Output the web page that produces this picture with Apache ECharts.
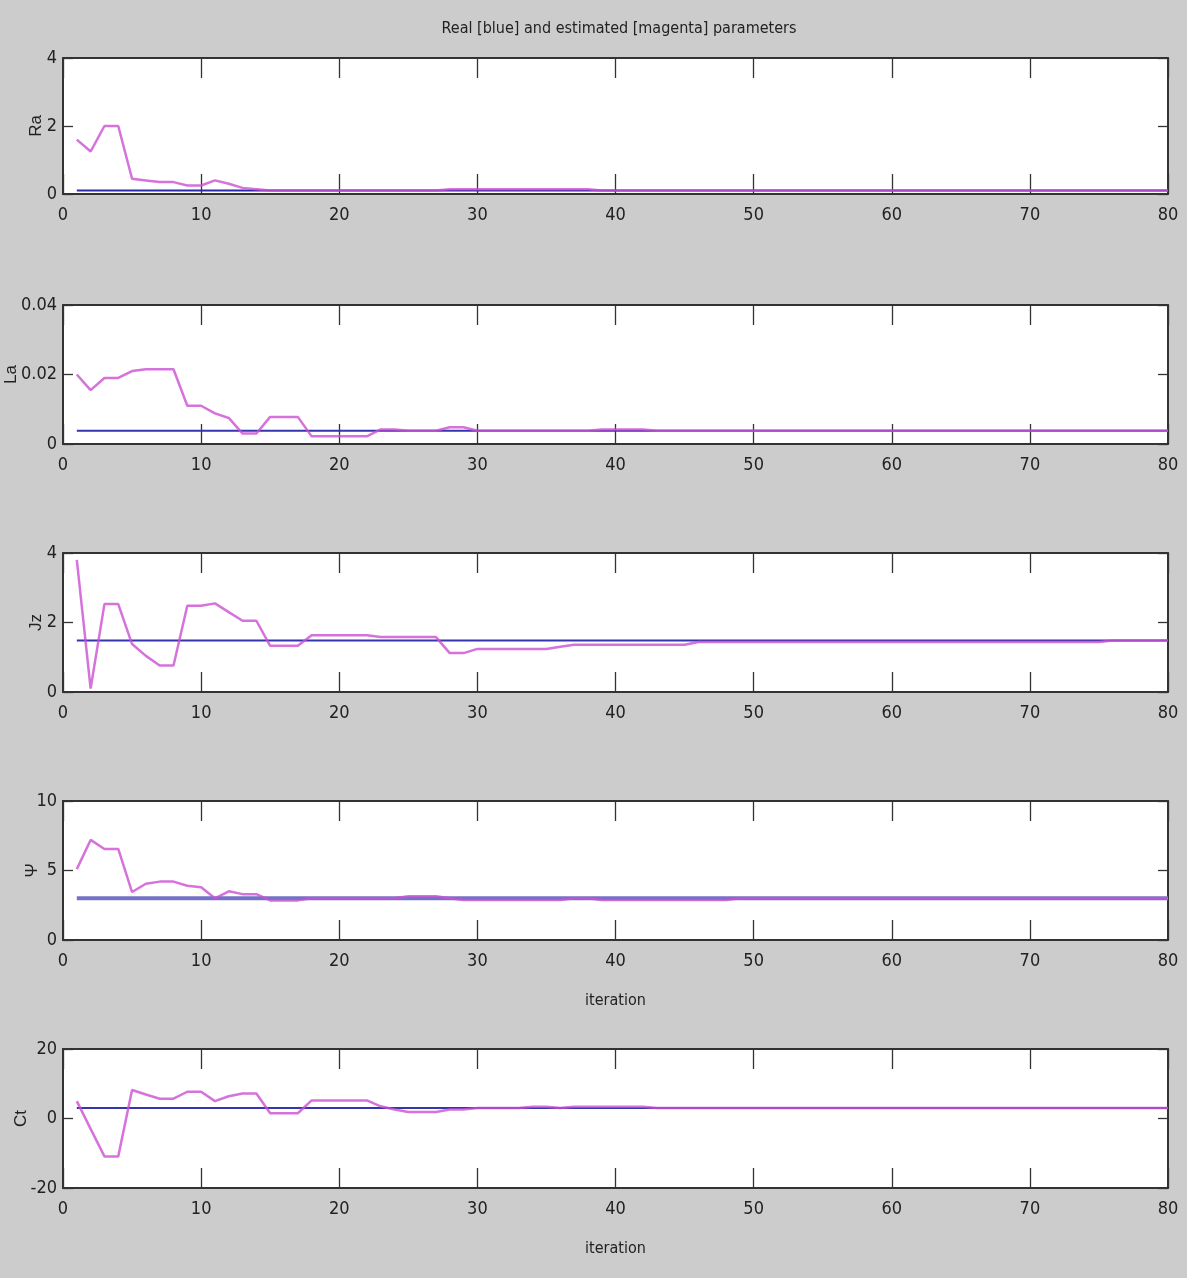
<!DOCTYPE html>
<html style="height: 100%">
  <head>
    <meta charset="utf-8" />
  </head>
  <body style="height: 100%; margin: 0; background: #cccccc">
    <div id="container" style="width: 1187px; height: 1278px"></div>

    <script src="https://cdn.jsdelivr.net/npm/echarts@6/dist/echarts.min.js"></script>
    <script type="text/javascript">
      // parameter names and the real (constant) values
      var paramNames = ["Ra", "La", "Jz", "\u03a8", "Ct"];
      var realValues = [0.1, 0.0038, 1.48, 3.0, 3.0];

      // y tick labels per panel
      var yTicks = [
        [0, 2, 4],
        [0, 0.02, 0.04],
        [0, 2, 4],
        [0, 5, 10],
        [-20, 0, 20],
      ];
      var xTicks = [0, 10, 20, 30, 40, 50, 60, 70, 80];

      // estimated values, iteration 1..80
      var estRa = [
        1.6, 1.25, 2.0, 2.0, 0.45, 0.4, 0.35, 0.35, 0.25, 0.25,
        0.4, 0.3, 0.18, 0.14, 0.1, 0.1, 0.1, 0.1, 0.1, 0.1,
        0.1, 0.1, 0.1, 0.1, 0.1, 0.1, 0.1, 0.14, 0.14, 0.14,
        0.14, 0.14, 0.14, 0.14, 0.14, 0.14, 0.14, 0.14, 0.1, 0.1,
        0.1, 0.1, 0.1, 0.1, 0.1, 0.1, 0.1, 0.1, 0.1, 0.1,
        0.1, 0.1, 0.1, 0.1, 0.1, 0.1, 0.1, 0.1, 0.1, 0.1,
        0.1, 0.1, 0.1, 0.1, 0.1, 0.1, 0.1, 0.1, 0.1, 0.1,
        0.1, 0.1, 0.1, 0.1, 0.1, 0.1, 0.1, 0.1, 0.1, 0.1,
      ];
      var estLa = [
        0.02, 0.0155, 0.019, 0.019, 0.021, 0.0215, 0.0215, 0.0215, 0.011, 0.011,
        0.0088, 0.0075, 0.003, 0.003, 0.0078, 0.0078, 0.0078, 0.0022, 0.0022, 0.0022,
        0.0022, 0.0022, 0.0042, 0.0042, 0.0038, 0.0038, 0.0038, 0.0048, 0.0048, 0.0038,
        0.0038, 0.0038, 0.0038, 0.0038, 0.0038, 0.0038, 0.0038, 0.0038, 0.0042, 0.0042,
        0.0042, 0.0042, 0.0038, 0.0038, 0.0038, 0.0038, 0.0038, 0.0038, 0.0038, 0.0038,
        0.0038, 0.0038, 0.0038, 0.0038, 0.0038, 0.0038, 0.0038, 0.0038, 0.0038, 0.0038,
        0.0038, 0.0038, 0.0038, 0.0038, 0.0038, 0.0038, 0.0038, 0.0038, 0.0038, 0.0038,
        0.0038, 0.0038, 0.0038, 0.0038, 0.0038, 0.0038, 0.0038, 0.0038, 0.0038, 0.0038,
      ];
      var estJz = [
        3.8, 0.1, 2.53, 2.53, 1.38, 1.04, 0.76, 0.76, 2.48, 2.48,
        2.55, 2.3, 2.05, 2.05, 1.33, 1.33, 1.33, 1.63, 1.63, 1.63,
        1.63, 1.63, 1.58, 1.58, 1.58, 1.58, 1.58, 1.12, 1.12, 1.24,
        1.24, 1.24, 1.24, 1.24, 1.24, 1.3, 1.36, 1.36, 1.36, 1.36,
        1.36, 1.36, 1.36, 1.36, 1.36, 1.44, 1.44, 1.44, 1.44, 1.44,
        1.44, 1.44, 1.44, 1.44, 1.44, 1.44, 1.44, 1.44, 1.44, 1.44,
        1.44, 1.44, 1.44, 1.44, 1.44, 1.44, 1.44, 1.44, 1.44, 1.44,
        1.44, 1.44, 1.44, 1.44, 1.44, 1.48, 1.48, 1.48, 1.48, 1.48,
      ];
      var estPsi = [
        5.1, 7.2, 6.55, 6.55, 3.45, 4.05, 4.2, 4.2, 3.9, 3.8,
        3.0, 3.5, 3.3, 3.3, 2.85, 2.85, 2.85, 3.0, 3.0, 3.0,
        3.0, 3.0, 3.0, 3.0, 3.15, 3.15, 3.15, 3.0, 2.88, 2.88,
        2.88, 2.88, 2.88, 2.88, 2.88, 2.88, 3.0, 3.0, 2.88, 2.88,
        2.88, 2.88, 2.88, 2.88, 2.88, 2.88, 2.88, 2.88, 3.0, 3.0,
        3.0, 3.0, 3.0, 3.0, 3.0, 3.0, 3.0, 3.0, 3.0, 3.0,
        3.0, 3.0, 3.0, 3.0, 3.0, 3.0, 3.0, 3.0, 3.0, 3.0,
        3.0, 3.0, 3.0, 3.0, 3.0, 3.0, 3.0, 3.0, 3.0, 3.0,
      ];
      var estCt = [
        5.0, -3.0, -10.9, -10.9, 8.2, 6.9, 5.7, 5.7, 7.7, 7.7,
        5.0, 6.4, 7.2, 7.2, 1.5, 1.5, 1.5, 5.2, 5.2, 5.2,
        5.2, 5.2, 3.5, 2.6, 1.9, 1.9, 1.9, 2.6, 2.6, 3.0,
        3.0, 3.0, 3.0, 3.4, 3.4, 3.0, 3.4, 3.4, 3.4, 3.4,
        3.4, 3.4, 3.0, 3.0, 3.0, 3.0, 3.0, 3.0, 3.0, 3.0,
        3.0, 3.0, 3.0, 3.0, 3.0, 3.0, 3.0, 3.0, 3.0, 3.0,
        3.0, 3.0, 3.0, 3.0, 3.0, 3.0, 3.0, 3.0, 3.0, 3.0,
        3.0, 3.0, 3.0, 3.0, 3.0, 3.0, 3.0, 3.0, 3.0, 3.0,
      ];
      var estimates = [estRa, estLa, estJz, estPsi, estCt];

      var iterations = [];
      for (var k = 1; k <= 80; k++) iterations.push(k);

      // layout
      var tops = [58, 305, 553, 801, 1049];
      var heights = [136, 139, 139, 139, 139];
      var nameGaps = [18, 43, 18, 22, 33];
      var showXName = [false, false, false, true, true];
      var realWidths = [2, 2, 2, 4, 2];
      var realColors = ["#2a2aa6", "#3535ad", "#3535ad", "#7272c6", "#3535ad"];

      var narrow = "'DejaVu Sans Condensed', 'Liberation Sans', sans-serif";
      var labelFont = {
        fontFamily: narrow,
        fontSize: 18,
        color: "#222",
      };
      var tickStyle = { color: "#333", width: 1.3 };
      var boxLine = {
        show: true,
        onZero: false,
        lineStyle: { color: "#333", width: 2 },
      };

      var grids = [], xAxes = [], yAxes = [], series = [];

      for (var i = 0; i < 5; i++) {
        grids.push({
          left: 63,
          width: 1105,
          top: tops[i],
          height: heights[i],
          containLabel: false,
          outerBoundsMode: "none",
          show: true,
          backgroundColor: "#ffffff",
          borderWidth: 0,
        });
        var yt = yTicks[i];
        var ystep = yt[1] - yt[0];
        // bottom and top x axes
        xAxes.push({
          type: "value",
          gridIndex: i,
          position: "bottom",
          min: xTicks[0],
          max: xTicks[xTicks.length - 1],
          interval: 10,
          axisLine: boxLine,
          axisTick: { inside: true, length: 20, lineStyle: tickStyle },
          axisLabel: Object.assign({ margin: 12 }, labelFont),
          splitLine: { show: false },
          name: showXName[i] ? "iteration" : "",
          nameLocation: "middle",
          nameGap: 53,
          nameMoveOverlap: false,
          nameTextStyle: {
            fontFamily: narrow,
            fontSize: 16,
            color: "#222",
          },
        });
        xAxes.push({
          type: "value",
          gridIndex: i,
          position: "top",
          min: xTicks[0],
          max: xTicks[xTicks.length - 1],
          interval: 10,
          axisLine: boxLine,
          axisTick: { inside: true, length: 20, lineStyle: tickStyle },
          axisLabel: { show: false },
          splitLine: { show: false },
        });
        // left and right y axes
        yAxes.push({
          type: "value",
          gridIndex: i,
          position: "left",
          min: yt[0],
          max: yt[yt.length - 1],
          interval: ystep,
          axisLine: boxLine,
          axisTick: { inside: true, length: 10, lineStyle: tickStyle },
          axisLabel: Object.assign({ margin: 6 }, labelFont),
          splitLine: { show: false },
          name: paramNames[i],
          nameLocation: "middle",
          nameGap: nameGaps[i],
          nameMoveOverlap: false,
          nameRotate: 90,
          nameTextStyle: {
            fontFamily: "'Liberation Sans', sans-serif",
            fontSize: 17,
            color: "#222",
          },
        });
        yAxes.push({
          type: "value",
          gridIndex: i,
          position: "right",
          min: yt[0],
          max: yt[yt.length - 1],
          interval: ystep,
          axisLine: boxLine,
          axisTick: { inside: true, length: 10, lineStyle: tickStyle },
          axisLabel: { show: false },
          splitLine: { show: false },
        });

        var est = estimates[i];
        var realData = [
          [iterations[0], realValues[i]],
          [iterations[iterations.length - 1], realValues[i]],
        ];
        var estData = iterations.map(function (it, k) {
          return [it, est[k]];
        });

        series.push({
          type: "line",
          xAxisIndex: 2 * i,
          yAxisIndex: 2 * i,
          data: realData,
          symbol: "none",
          lineStyle: { color: realColors[i], width: realWidths[i] },
          z: 2,
          silent: true,
        });
        series.push({
          type: "line",
          xAxisIndex: 2 * i,
          yAxisIndex: 2 * i,
          data: estData,
          symbol: "none",
          lineStyle: { color: "#cc4fd2", width: 2.5, opacity: 0.8 },
          z: 3,
          silent: true,
        });
      }

      var dom = document.getElementById("container");
      var myChart = echarts.init(dom);
      myChart.setOption({
        backgroundColor: "#cccccc",
        animation: false,
        title: {
          text: "Real [blue] and estimated [magenta] parameters",
          left: 614,
          top: 16,
          textAlign: "center",
          textStyle: {
            fontFamily: narrow,
            fontSize: 16,
            fontWeight: "normal",
            color: "#222",
          },
        },
        grid: grids,
        xAxis: xAxes,
        yAxis: yAxes,
        series: series,
      });
    </script>
  </body>
</html>
